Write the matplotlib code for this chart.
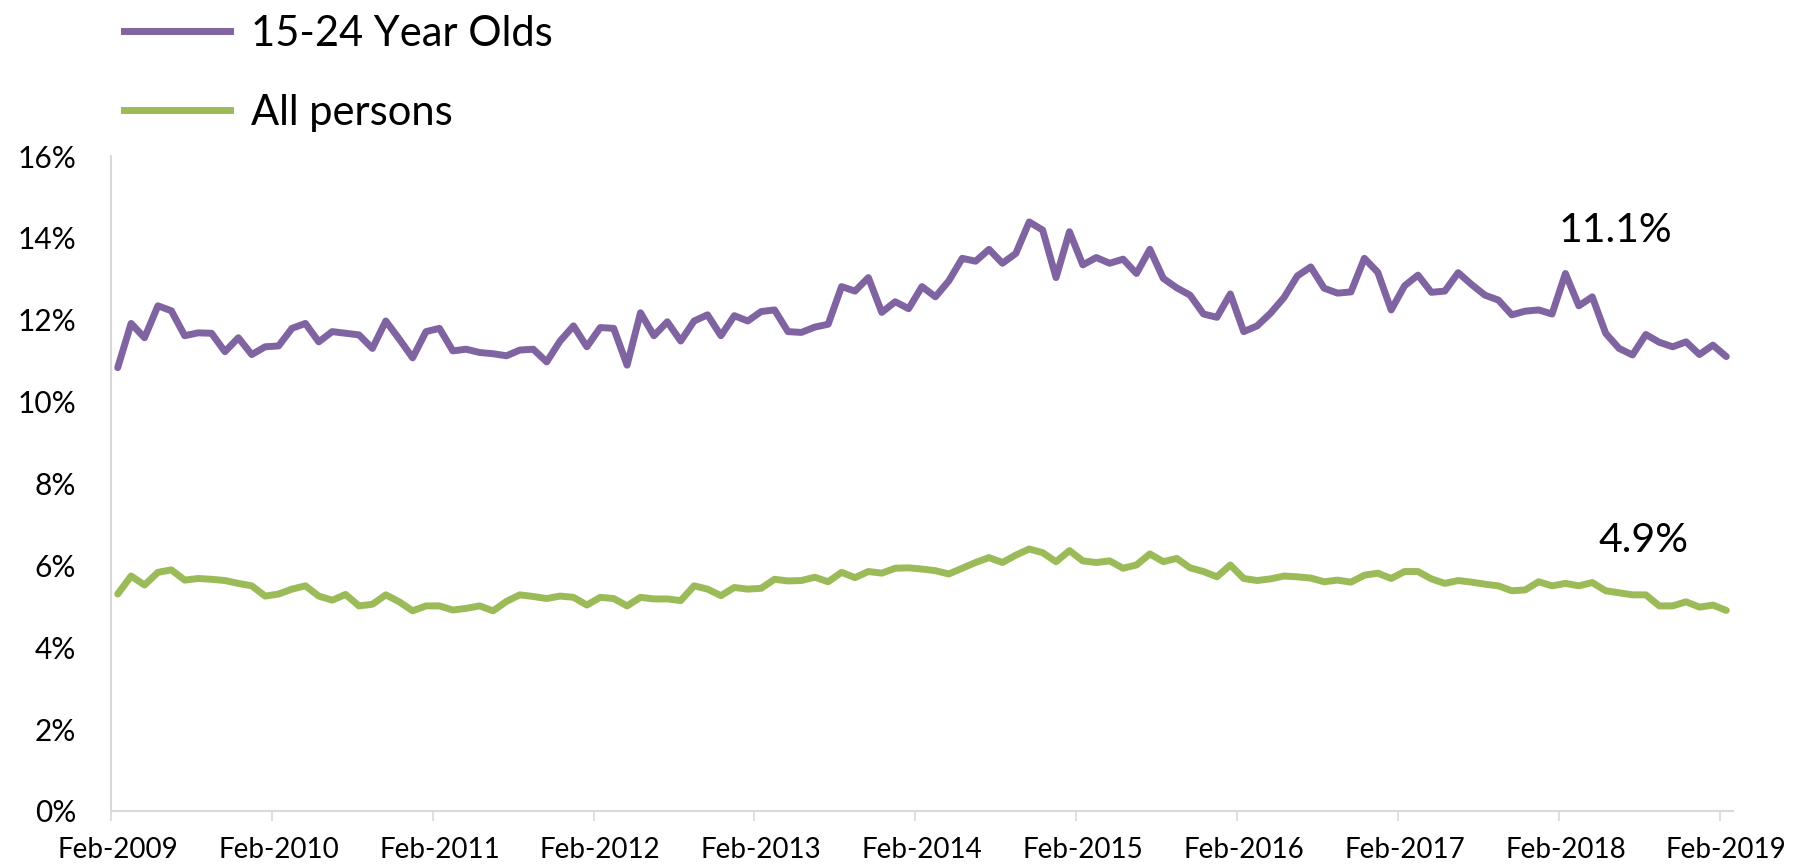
import matplotlib
matplotlib.use("Agg")
import matplotlib.pyplot as plt
from matplotlib.lines import Line2D
from matplotlib.ticker import FuncFormatter

plt.rcParams["font.family"] = ["Lato", "DejaVu Sans"]

# monthly unemployment rate (%), Feb-2009 .. Feb-2019
youth = [10.83, 11.91, 11.56, 12.34, 12.22, 11.61, 11.68, 11.67, 11.22, 11.56,
         11.15, 11.34, 11.36, 11.79, 11.91, 11.46, 11.71, 11.67, 11.63, 11.30,
         11.97, 11.53, 11.07, 11.71, 11.79, 11.24, 11.28, 11.20, 11.17, 11.12,
         11.26, 11.28, 10.97, 11.48, 11.85, 11.34, 11.81, 11.79, 10.89, 12.17,
         11.61, 11.95, 11.48, 11.97, 12.12, 11.61, 12.10, 11.97, 12.20, 12.24,
         11.71, 11.69, 11.82, 11.89, 12.81, 12.70, 13.03, 12.18, 12.44, 12.27,
         12.81, 12.56, 12.95, 13.50, 13.43, 13.72, 13.38, 13.62, 14.39, 14.19,
         13.03, 14.15, 13.34, 13.52, 13.38, 13.48, 13.13, 13.72, 13.01, 12.78,
         12.60, 12.14, 12.06, 12.63, 11.71, 11.85, 12.16, 12.54, 13.07, 13.29,
         12.77, 12.65, 12.68, 13.50, 13.16, 12.24, 12.83, 13.09, 12.67, 12.70,
         13.15, 12.86, 12.60, 12.48, 12.12, 12.21, 12.24, 12.14, 13.13, 12.34,
         12.56, 11.67, 11.30, 11.14, 11.64, 11.45, 11.34, 11.46, 11.15, 11.38,
         11.1]
allp = [5.30, 5.74, 5.52, 5.83, 5.89, 5.64, 5.68, 5.66, 5.63, 5.56,
        5.50, 5.25, 5.30, 5.42, 5.50, 5.25, 5.15, 5.29, 5.01, 5.05,
        5.28, 5.11, 4.89, 5.01, 5.01, 4.91, 4.95, 5.01, 4.89, 5.12,
        5.28, 5.24, 5.19, 5.25, 5.22, 5.03, 5.22, 5.19, 5.01, 5.22,
        5.18, 5.18, 5.14, 5.50, 5.42, 5.26, 5.46, 5.42, 5.44, 5.66,
        5.62, 5.63, 5.71, 5.60, 5.83, 5.70, 5.85, 5.81, 5.93, 5.94,
        5.91, 5.87, 5.79, 5.93, 6.07, 6.19, 6.07, 6.25, 6.40, 6.31,
        6.09, 6.36, 6.11, 6.07, 6.11, 5.93, 6.01, 6.28, 6.09, 6.17,
        5.94, 5.85, 5.72, 6.01, 5.68, 5.63, 5.67, 5.74, 5.72, 5.69,
        5.60, 5.64, 5.59, 5.76, 5.81, 5.68, 5.85, 5.85, 5.67, 5.56,
        5.63, 5.59, 5.54, 5.50, 5.38, 5.40, 5.60, 5.50, 5.56, 5.50,
        5.58, 5.38, 5.33, 5.28, 5.28, 5.01, 5.01, 5.11, 4.98, 5.03,
        4.9]
year_labels = ["Feb-%d" % y for y in range(2009, 2020)]

PURPLE = "#8064A2"
GREEN = "#9BBB59"
AXC = "#D9D9D9"

n = len(youth)
xs = [i + 0.5 for i in range(n)]  # category centres, Excel style

fig = plt.figure(figsize=(18.02, 8.67), dpi=100)
ax = fig.add_axes([111 / 1802, 56 / 867, (1733 - 111) / 1802, (811 - 156) / 867])

kw = dict(lw=5, solid_joinstyle="round", solid_capstyle="round")
ax.plot(xs, youth, color=PURPLE, **kw)
ax.plot(xs, allp, color=GREEN, **kw)

ax.set_xlim(0, n)
ax.set_ylim(0, 16)
ax.set_yticks(range(0, 17, 2))
ax.yaxis.set_major_formatter(FuncFormatter(lambda v, p: "%d%%" % v))
ax.tick_params(axis="y", length=0, pad=25, labelsize=21.5)

ax.set_xticks(range(0, n, 12), labels=[""] * len(range(0, n, 12)))
ax.set_xticks([i + 0.5 for i in range(0, n, 12)], labels=year_labels, minor=True)
ax.tick_params(axis="x", which="major", length=7, width=1.2, color=AXC)
ax.tick_params(axis="x", which="minor", length=0, pad=19, labelsize=20)

for s in ("top", "right"):
    ax.spines[s].set_visible(False)
for s in ("left", "bottom"):
    ax.spines[s].set_color(AXC)
    ax.spines[s].set_linewidth(1.5)

# end-of-series labels
ax.text(112.2, 13.9, "%.1f%%" % youth[-1], ha="center", va="baseline", fontsize=29.5)
ax.text(114.3, 6.33, "%.1f%%" % allp[-1], ha="center", va="baseline", fontsize=29.5)

handles = [Line2D([], [], color=PURPLE, lw=5), Line2D([], [], color=GREEN, lw=5)]
fig.legend(handles, ["15-24 Year Olds", "All persons"], loc="upper left",
           bbox_to_anchor=(124 / 1802, 0.983), frameon=False, fontsize=30,
           handlelength=2.55, handletextpad=0.5, labelspacing=0.98,
           borderpad=0, borderaxespad=0)

fig.savefig("out.png", dpi=100)
